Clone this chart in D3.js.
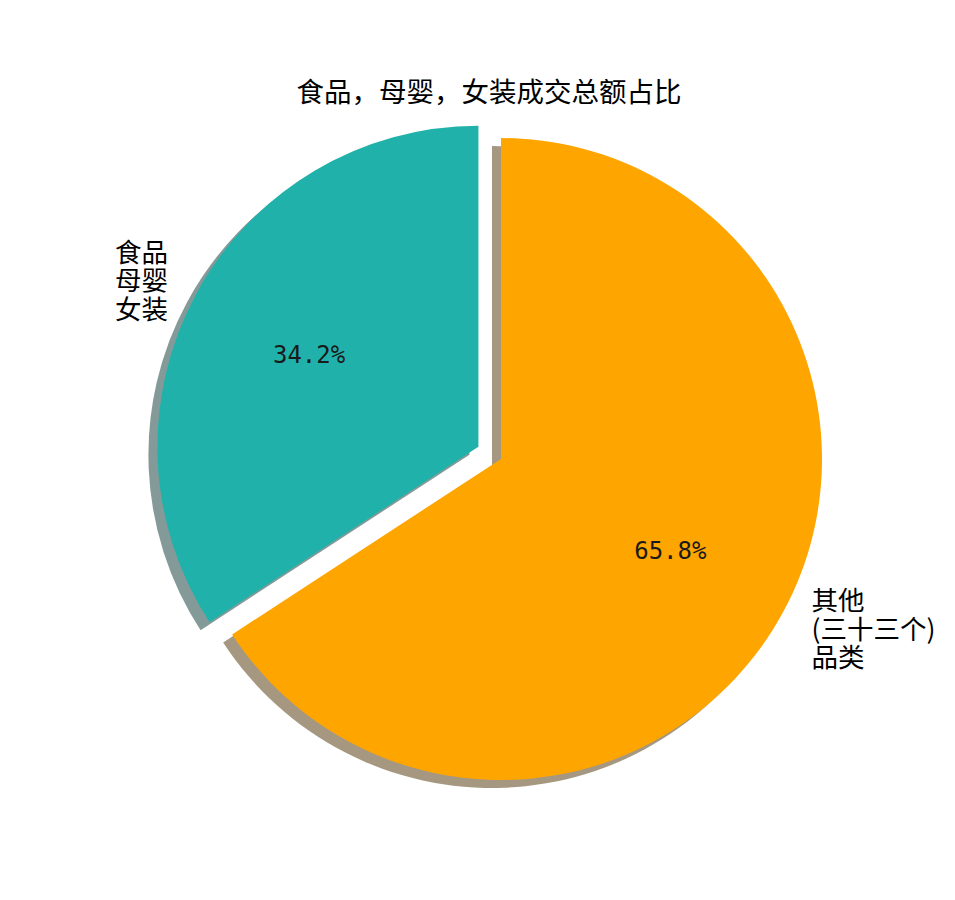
<!DOCTYPE html>
<html><head><meta charset="utf-8">
<script src="https://cdn.jsdelivr.net/npm/d3@7"></script>
<style>body{margin:0;background:#fff}</style>
</head><body>
<svg id="chart" width="955" height="900"></svg>
<script>
const title = "食品，母婴，女装成交总额占比";
const categories = [["食品","母婴","女装"], ["其他","(三十三个)","品类"]];
const values = [34.2, 65.8];
const colors = ["#20B2AA", "#FFA500"];
const explode = [0.08, 0];

const W = 955, H = 900, cx = 501, cy = 459, R = 321;
const svg = d3.select("#chart");
const rs = d3.scaleLinear().domain([0, 1]).range([0, R]);

const pie = d3.pie().sort(null).startAngle(0).endAngle(-2 * Math.PI);
const arcs = pie(values);
const arc = d3.arc().innerRadius(0).outerRadius(rs(1));

function shadowColor(c) {
  const k = d3.rgb(c);
  const f = v => Math.round(v * 0.3 * 0.5 + 255 * 0.5);
  return d3.rgb(f(k.r), f(k.g), f(k.b)).toString();
}
function mid(d) { return (d.startAngle + d.endAngle) / 2; }
function offset(d, i, k) {
  const a = mid(d);
  return [Math.sin(a) * rs(k), -Math.cos(a) * rs(k)];
}

const g = svg.append("g").attr("transform", `translate(${cx},${cy})`);
const sdx = -9, sdy = 8;

// shadows
g.selectAll("path.shadow").data(arcs).join("path")
  .attr("class", "shadow")
  .attr("d", arc)
  .attr("fill", (d, i) => shadowColor(colors[i]))
  .attr("transform", (d, i) => {
    const [x, y] = offset(d, i, explode[i]);
    return `translate(${x + sdx},${y + sdy})`;
  });

// wedges
g.selectAll("path.wedge").data(arcs).join("path")
  .attr("class", "wedge")
  .attr("d", arc)
  .attr("fill", (d, i) => colors[i])
  .attr("transform", (d, i) => {
    const [x, y] = offset(d, i, explode[i]);
    return `translate(${x},${y})`;
  });

// percentages
g.selectAll("text.pct").data(arcs).join("text")
  .attr("class", "pct")
  .attr("x", (d, i) => offset(d, i, explode[i])[0] + offset(d, i, 0.6)[0])
  .attr("y", (d, i) => offset(d, i, explode[i])[1] + offset(d, i, 0.6)[1])
  .attr("text-anchor", "middle")
  .attr("dominant-baseline", "central")
  .style("font-family", "'DejaVu Sans Mono',monospace")
  .style("font-size", "24px")
  .attr("fill", "#1a1a1a")
  .text(d => d.data.toFixed(1) + "%");

// labels
const lineH = 28.5;
g.selectAll("text.lbl").data(arcs).join("text")
  .attr("class", "lbl")
  .attr("text-anchor", d => Math.sin(mid(d)) < 0 ? "end" : "start")
  .style("font-family", "'Noto Sans CJK SC',sans-serif")
  .style("font-size", "26.5px")
  .attr("fill", "#000")
  .each(function(d, i) {
    const [ex, ey] = offset(d, i, explode[i]);
    const [lx, ly] = offset(d, i, 1.1);
    const lines = categories[i];
    const t = d3.select(this);
    lines.forEach((ln, j) => {
      t.append("tspan")
        .attr("x", ex + lx)
        .attr("y", ey + ly + (j - (lines.length - 1) / 2) * lineH)
        .attr("dominant-baseline", "central")
        .text(ln);
    });
  });

svg.append("text")
  .attr("x", 489).attr("y", 90)
  .attr("text-anchor", "middle")
  .attr("dominant-baseline", "central")
  .style("font-family", "'Noto Sans CJK SC',sans-serif")
  .style("font-size", "27.5px")
  .attr("fill", "#000")
  .text(title);
</script>
</body></html>
